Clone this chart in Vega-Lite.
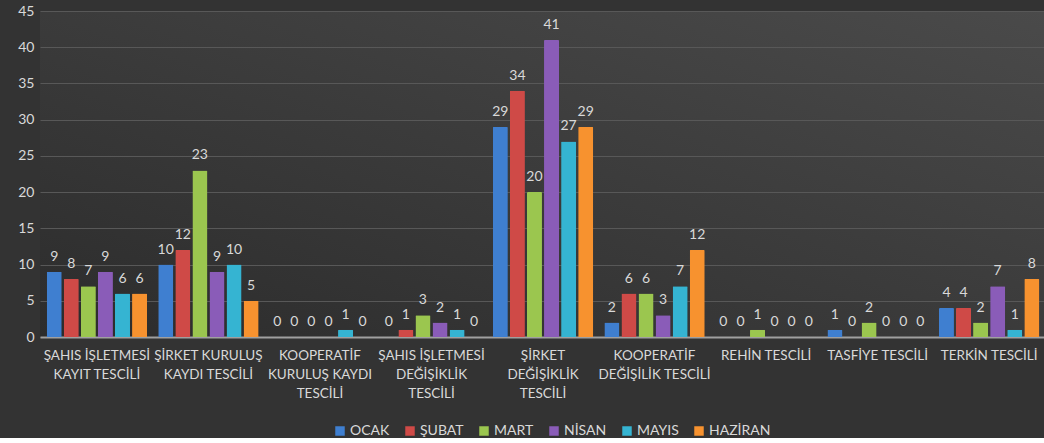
{
  "$schema": "https://vega.github.io/schema/vega-lite/v6.json",
  "width": 1006,
  "height": 326,
  "padding": {"left": 17, "top": 4, "right": 0, "bottom": 0},
  "background": "#333333",
  "config": {
    "font": "Lato",
    "view": {"stroke": null, "fill": {"gradient": "linear", "x1": 0, "y1": 1, "x2": 1, "y2": 0, "stops": [{"offset": 0, "color": "#2c2c2c"}, {"offset": 1, "color": "#4a4a4a"}]}}
  },
  "data": {
    "values": [
      {"kategori": "ŞAHIS İŞLETMESİ|KAYIT TESCİLİ", "ay": "OCAK", "deger": 9},
      {"kategori": "ŞAHIS İŞLETMESİ|KAYIT TESCİLİ", "ay": "ŞUBAT", "deger": 8},
      {"kategori": "ŞAHIS İŞLETMESİ|KAYIT TESCİLİ", "ay": "MART", "deger": 7},
      {"kategori": "ŞAHIS İŞLETMESİ|KAYIT TESCİLİ", "ay": "NİSAN", "deger": 9},
      {"kategori": "ŞAHIS İŞLETMESİ|KAYIT TESCİLİ", "ay": "MAYIS", "deger": 6},
      {"kategori": "ŞAHIS İŞLETMESİ|KAYIT TESCİLİ", "ay": "HAZİRAN", "deger": 6},
      {"kategori": "ŞİRKET KURULUŞ|KAYDI TESCİLİ", "ay": "OCAK", "deger": 10},
      {"kategori": "ŞİRKET KURULUŞ|KAYDI TESCİLİ", "ay": "ŞUBAT", "deger": 12},
      {"kategori": "ŞİRKET KURULUŞ|KAYDI TESCİLİ", "ay": "MART", "deger": 23},
      {"kategori": "ŞİRKET KURULUŞ|KAYDI TESCİLİ", "ay": "NİSAN", "deger": 9},
      {"kategori": "ŞİRKET KURULUŞ|KAYDI TESCİLİ", "ay": "MAYIS", "deger": 10},
      {"kategori": "ŞİRKET KURULUŞ|KAYDI TESCİLİ", "ay": "HAZİRAN", "deger": 5},
      {"kategori": "KOOPERATİF|KURULUŞ KAYDI|TESCİLİ", "ay": "OCAK", "deger": 0},
      {"kategori": "KOOPERATİF|KURULUŞ KAYDI|TESCİLİ", "ay": "ŞUBAT", "deger": 0},
      {"kategori": "KOOPERATİF|KURULUŞ KAYDI|TESCİLİ", "ay": "MART", "deger": 0},
      {"kategori": "KOOPERATİF|KURULUŞ KAYDI|TESCİLİ", "ay": "NİSAN", "deger": 0},
      {"kategori": "KOOPERATİF|KURULUŞ KAYDI|TESCİLİ", "ay": "MAYIS", "deger": 1},
      {"kategori": "KOOPERATİF|KURULUŞ KAYDI|TESCİLİ", "ay": "HAZİRAN", "deger": 0},
      {"kategori": "ŞAHIS İŞLETMESİ|DEĞİŞİKLİK|TESCİLİ", "ay": "OCAK", "deger": 0},
      {"kategori": "ŞAHIS İŞLETMESİ|DEĞİŞİKLİK|TESCİLİ", "ay": "ŞUBAT", "deger": 1},
      {"kategori": "ŞAHIS İŞLETMESİ|DEĞİŞİKLİK|TESCİLİ", "ay": "MART", "deger": 3},
      {"kategori": "ŞAHIS İŞLETMESİ|DEĞİŞİKLİK|TESCİLİ", "ay": "NİSAN", "deger": 2},
      {"kategori": "ŞAHIS İŞLETMESİ|DEĞİŞİKLİK|TESCİLİ", "ay": "MAYIS", "deger": 1},
      {"kategori": "ŞAHIS İŞLETMESİ|DEĞİŞİKLİK|TESCİLİ", "ay": "HAZİRAN", "deger": 0},
      {"kategori": "ŞİRKET|DEĞİŞİKLİK|TESCİLİ", "ay": "OCAK", "deger": 29},
      {"kategori": "ŞİRKET|DEĞİŞİKLİK|TESCİLİ", "ay": "ŞUBAT", "deger": 34},
      {"kategori": "ŞİRKET|DEĞİŞİKLİK|TESCİLİ", "ay": "MART", "deger": 20},
      {"kategori": "ŞİRKET|DEĞİŞİKLİK|TESCİLİ", "ay": "NİSAN", "deger": 41},
      {"kategori": "ŞİRKET|DEĞİŞİKLİK|TESCİLİ", "ay": "MAYIS", "deger": 27},
      {"kategori": "ŞİRKET|DEĞİŞİKLİK|TESCİLİ", "ay": "HAZİRAN", "deger": 29},
      {"kategori": "KOOPERATİF|DEĞİŞİLİK TESCİLİ", "ay": "OCAK", "deger": 2},
      {"kategori": "KOOPERATİF|DEĞİŞİLİK TESCİLİ", "ay": "ŞUBAT", "deger": 6},
      {"kategori": "KOOPERATİF|DEĞİŞİLİK TESCİLİ", "ay": "MART", "deger": 6},
      {"kategori": "KOOPERATİF|DEĞİŞİLİK TESCİLİ", "ay": "NİSAN", "deger": 3},
      {"kategori": "KOOPERATİF|DEĞİŞİLİK TESCİLİ", "ay": "MAYIS", "deger": 7},
      {"kategori": "KOOPERATİF|DEĞİŞİLİK TESCİLİ", "ay": "HAZİRAN", "deger": 12},
      {"kategori": "REHİN TESCİLİ", "ay": "OCAK", "deger": 0},
      {"kategori": "REHİN TESCİLİ", "ay": "ŞUBAT", "deger": 0},
      {"kategori": "REHİN TESCİLİ", "ay": "MART", "deger": 1},
      {"kategori": "REHİN TESCİLİ", "ay": "NİSAN", "deger": 0},
      {"kategori": "REHİN TESCİLİ", "ay": "MAYIS", "deger": 0},
      {"kategori": "REHİN TESCİLİ", "ay": "HAZİRAN", "deger": 0},
      {"kategori": "TASFİYE TESCİLİ", "ay": "OCAK", "deger": 1},
      {"kategori": "TASFİYE TESCİLİ", "ay": "ŞUBAT", "deger": 0},
      {"kategori": "TASFİYE TESCİLİ", "ay": "MART", "deger": 2},
      {"kategori": "TASFİYE TESCİLİ", "ay": "NİSAN", "deger": 0},
      {"kategori": "TASFİYE TESCİLİ", "ay": "MAYIS", "deger": 0},
      {"kategori": "TASFİYE TESCİLİ", "ay": "HAZİRAN", "deger": 0},
      {"kategori": "TERKİN TESCİLİ", "ay": "OCAK", "deger": 4},
      {"kategori": "TERKİN TESCİLİ", "ay": "ŞUBAT", "deger": 4},
      {"kategori": "TERKİN TESCİLİ", "ay": "MART", "deger": 2},
      {"kategori": "TERKİN TESCİLİ", "ay": "NİSAN", "deger": 7},
      {"kategori": "TERKİN TESCİLİ", "ay": "MAYIS", "deger": 1},
      {"kategori": "TERKİN TESCİLİ", "ay": "HAZİRAN", "deger": 8}
    ]
  },
  "encoding": {
    "x": {
      "field": "kategori", "type": "nominal", "sort": null,
      "scale": {"paddingInner": 0.1, "paddingOuter": 0.06},
      "axis": {"title": null, "labelAngle": 0, "labelExpr": "split(datum.label, '|')", "labelColor": "#d9d9d9", "labelFontSize": 13.5, "labelLineHeight": 19, "labelPadding": 11, "ticks": false, "domainColor": "#a0a0a0", "domainWidth": 2, "labelBaseline": "top", "labelOverlap": false}
    },
    "xOffset": {"field": "ay", "type": "nominal", "sort": ["OCAK", "ŞUBAT", "MART", "NİSAN", "MAYIS", "HAZİRAN"], "scale": {"paddingInner": 0.12, "paddingOuter": 0}},
    "y": {
      "field": "deger", "type": "quantitative",
      "scale": {"domain": [0, 45]},
      "axis": {"title": null, "values": [0, 5, 10, 15, 20, 25, 30, 35, 40, 45], "labelColor": "#d9d9d9", "labelFontSize": 14, "labelPadding": 6, "ticks": false, "domain": false, "gridColor": "#585858", "gridWidth": 1}
    }
  },
  "layer": [
    {
      "mark": {"type": "bar", "cornerRadiusEnd": 1},
      "encoding": {
        "color": {
          "field": "ay", "type": "nominal", "sort": ["OCAK", "ŞUBAT", "MART", "NİSAN", "MAYIS", "HAZİRAN"],
          "scale": {"domain": ["OCAK", "ŞUBAT", "MART", "NİSAN", "MAYIS", "HAZİRAN"], "range": ["#3f7fd0", "#cf4a47", "#9bc64f", "#8a5cb8", "#35b4d2", "#f7922f"]},
          "legend": {"title": null, "orient": "none", "legendX": 293, "legendY": 413, "direction": "horizontal", "symbolType": "square", "symbolSize": 90, "symbolStrokeWidth": 0, "labelColor": "#d9d9d9", "labelFontSize": 14, "columnPadding": 13, "labelOffset": 3}
        }
      }
    },
    {
      "mark": {"type": "text", "baseline": "bottom", "dy": -8, "color": "#d9d9d9", "fontSize": 14},
      "encoding": {"text": {"field": "deger", "type": "quantitative"}}
    }
  ]
}
